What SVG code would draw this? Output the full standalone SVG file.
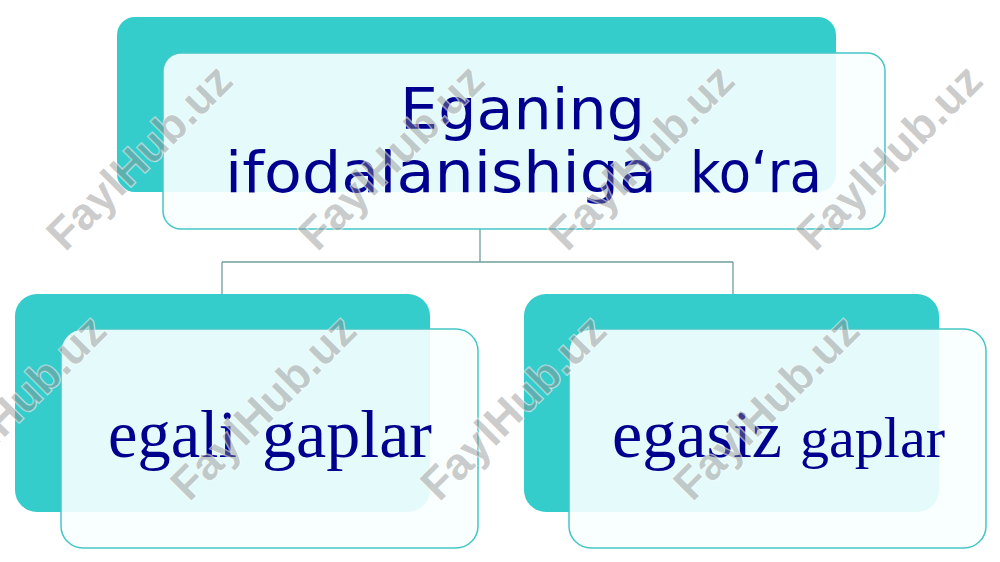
<svg xmlns="http://www.w3.org/2000/svg" width="1000" height="562" viewBox="0 0 1000 562">
<style>
.back{fill:#35cccc}
.front{fill:#f8ffff;fill-opacity:0.9;stroke:#45c6c6;stroke-width:1.5}
.conn{stroke:#6f9f9f;stroke-width:1.3;fill:none}
.sans{font-family:"DejaVu Sans","Verdana",sans-serif;fill:#00008f}
.serif{font-family:"Liberation Serif","Times New Roman",serif;fill:#00008f}
.wm{font-family:"Liberation Sans",Arial,sans-serif;font-weight:bold;font-size:45px;fill:#8c8c8c;fill-opacity:0.45;stroke:#ffffff;stroke-opacity:0.6;stroke-width:1.5;paint-order:stroke}
</style>
<rect width="1000" height="562" fill="#ffffff"/>
<g id="connectors">
<path class="conn" d="M480 229 V262 M222 262 H733 M222 262 V294 M733 262 V294"/>
</g>
<g id="node-top">
<rect class="back" x="117" y="17" width="719" height="175" rx="18"/>
<rect class="front" x="163" y="53" width="722" height="176" rx="18"/>
<text class="sans" x="400" y="129" font-size="57" textLength="245" lengthAdjust="spacingAndGlyphs">Eganing</text>
<text class="sans" x="225" y="192" font-size="57" textLength="432" lengthAdjust="spacingAndGlyphs">ifodalanishiga</text>
<text class="sans" x="690" y="192" font-size="57" textLength="132" lengthAdjust="spacingAndGlyphs">ko‘ra</text>
</g>
<g id="node-left">
<rect class="back" x="15" y="294" width="415" height="218" rx="22"/>
<rect class="front" x="61" y="329" width="417" height="219" rx="22"/>
<text class="serif" x="108" y="457" font-size="67" textLength="129" lengthAdjust="spacingAndGlyphs">egali</text>
<text class="serif" x="262" y="457" font-size="67" textLength="170" lengthAdjust="spacingAndGlyphs">gaplar</text>
</g>
<g id="node-right">
<rect class="back" x="524" y="294" width="415" height="218" rx="22"/>
<rect class="front" x="569" y="329" width="417" height="219" rx="22"/>
<text class="serif" x="612" y="457" font-size="68" textLength="170" lengthAdjust="spacingAndGlyphs">egasiz</text>
<text class="serif" x="800" y="457" font-size="58" textLength="145" lengthAdjust="spacingAndGlyphs">gaplar</text>
</g>
<g id="watermarks" text-anchor="middle">
<text class="wm" transform="translate(150,168) rotate(-45)">FaylHub.uz</text>
<text class="wm" transform="translate(402,168) rotate(-45)">FaylHub.uz</text>
<text class="wm" transform="translate(652,168) rotate(-45)">FaylHub.uz</text>
<text class="wm" transform="translate(900,168) rotate(-45)">FaylHub.uz</text>
<text class="wm" transform="translate(24,418) rotate(-45)">FaylHub.uz</text>
<text class="wm" transform="translate(274,418) rotate(-45)">FaylHub.uz</text>
<text class="wm" transform="translate(524,418) rotate(-45)">FaylHub.uz</text>
<text class="wm" transform="translate(777,418) rotate(-45)">FaylHub.uz</text>
</g>
</svg>
